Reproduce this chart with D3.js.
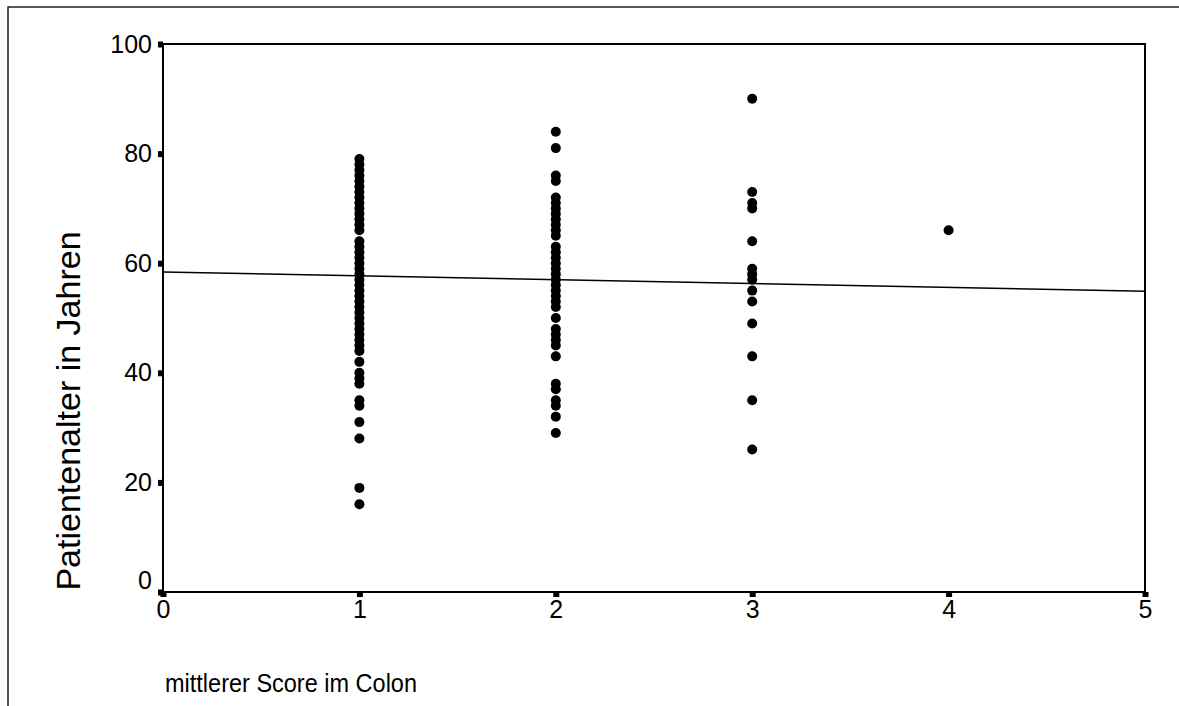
<!DOCTYPE html>
<html>
<head>
<meta charset="utf-8">
<title>Patientenalter vs. mittlerer Score im Colon</title>
<script src="https://d3js.org/d3.v7.min.js"></script>
<style>
  body { margin: 0; background: #fff; }
  svg { display: block; font-family: "Liberation Sans", Arial, sans-serif; }
  .tick line { stroke: #000; stroke-width: 6; }
</style>
</head>
<body>
<svg width="1179" height="706"></svg>
<script>
// values (score -> ages)
var score1 = [79, 78, 77, 76, 75, 74, 73, 72, 71, 70, 69, 68, 67, 66, 64, 63, 62, 61, 60, 59,
              58, 57, 56, 55, 54, 53, 52, 51, 50, 49, 48, 47, 46, 45, 44, 42, 40, 39, 38, 35,
              34, 31, 28, 19, 16];
var score2 = [84, 81, 76, 75, 72, 71, 70, 69, 68, 67, 66, 65, 63, 62, 61, 60, 59, 58, 57, 56,
              55, 54, 53, 52, 50, 48, 47, 46, 45, 43, 38, 37, 35, 34, 32, 29];
var score3 = [90, 73, 71, 70, 64, 59, 58, 57, 55, 53, 49, 43, 35, 26];
var score4 = [66];

var xTicks = [0, 1, 2, 3, 4, 5];
var yTicks = [0, 20, 40, 60, 80, 100];

// fitted line (intercept, slope)
var fitIntercept = 58.4;
var fitSlope = -0.7;

var svg = d3.select("svg");

var x = d3.scaleLinear().domain([0, 5]).range([163, 1145]);
var y = d3.scaleLinear().domain([0, 100]).range([592, 44]);

// outer frame
svg.append("path")
  .attr("d", "M8,706 V7 H1179")
  .attr("fill", "none")
  .attr("stroke", "#222")
  .attr("stroke-width", 1.5);

// y axis
var gy = svg.append("g")
  .attr("transform", "translate(" + x(0) + ",0)")
  .call(d3.axisLeft(y).tickValues(yTicks).tickFormat(d3.format("d"))
    .tickSizeInner(5).tickSizeOuter(0).tickPadding(6));
gy.select(".domain").remove();
gy.attr("font-size", 25).attr("font-family", "Liberation Sans, Arial, sans-serif");
gy.selectAll(".tick text").filter(function(d) { return d === 0; })
  .attr("dy", "-0.15em");

// x axis
var gx = svg.append("g")
  .attr("transform", "translate(0," + y(0) + ")")
  .call(d3.axisBottom(x).tickValues(xTicks).tickFormat(d3.format("d"))
    .tickSizeInner(5).tickSizeOuter(0).tickPadding(6));
gx.select(".domain").remove();
gx.attr("font-size", 25).attr("font-family", "Liberation Sans, Arial, sans-serif");
gx.selectAll(".tick text").attr("dy", "0.6em");

// plot frame
svg.append("rect")
  .attr("x", x(0))
  .attr("y", y(100))
  .attr("width", x(5) - x(0))
  .attr("height", y(0) - y(100))
  .attr("fill", "none")
  .attr("stroke", "#000")
  .attr("stroke-width", 2);

// regression line
svg.append("line")
  .attr("x1", x(0)).attr("y1", y(fitIntercept))
  .attr("x2", x(5)).attr("y2", y(fitIntercept + fitSlope * 5))
  .attr("stroke", "#000")
  .attr("stroke-width", 1.5);

// points
var groups = [[1, score1], [2, score2], [3, score3], [4, score4]];
var pts = [];
groups.forEach(function(g) {
  g[1].forEach(function(a) { pts.push({s: g[0], age: a}); });
});
svg.append("g").selectAll("circle")
  .data(pts)
  .enter().append("circle")
  .attr("cx", function(d) { return x(d.s); })
  .attr("cy", function(d) { return y(d.age); })
  .attr("r", 5)
  .attr("fill", "#000");

// axis titles
svg.append("text")
  .attr("transform", "translate(80," + 411 + ") rotate(-90)")
  .attr("text-anchor", "middle")
  .style("font-size", "34px")
  .text("Patientenalter in Jahren");

svg.append("text")
  .attr("x", 165)
  .attr("y", 692)
  .attr("textLength", 252)
  .attr("lengthAdjust", "spacingAndGlyphs")
  .style("font-size", "26px")
  .text("mittlerer Score im Colon");
</script>
</body>
</html>
